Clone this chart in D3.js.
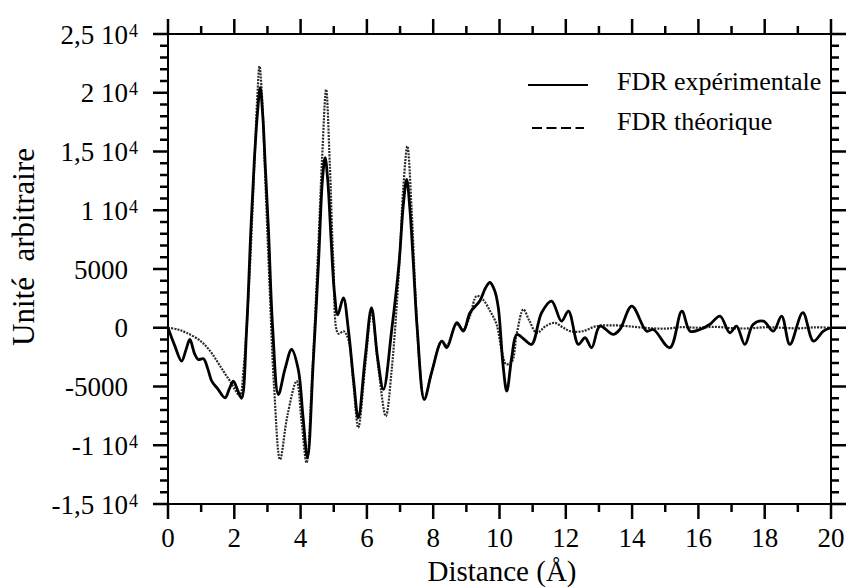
<!DOCTYPE html>
<html>
<head>
<meta charset="utf-8">
<script src="https://cdn.jsdelivr.net/npm/d3@7/dist/d3.min.js"></script>
<style>
  html, body { margin: 0; padding: 0; background: #fff; }
  svg { display: block; }
</style>
</head>
<body>
<svg id="chart" width="847" height="587" font-family="Liberation Serif, Times New Roman, Times, serif"></svg>
<script>
// Radial distribution function (FDR): experimental vs theoretical
const distExp = [0.00, 0.20, 0.41, 0.55, 0.66, 0.80, 0.91, 1.07, 1.20, 1.32, 1.50, 1.72, 1.85, 1.97, 2.10, 2.22,
  2.37, 2.50, 2.60, 2.70, 2.78, 2.86, 2.93, 3.03, 3.16, 3.33, 3.53, 3.73, 3.93, 4.07, 4.21, 4.38, 4.54, 4.66, 4.74,
  4.82, 4.92, 5.02, 5.12, 5.29, 5.44, 5.60, 5.74, 5.95, 6.14, 6.32, 6.50, 6.75, 6.97, 7.10, 7.20, 7.30, 7.40, 7.52,
  7.73, 7.95, 8.26, 8.41, 8.71, 8.91, 9.11, 9.41, 9.58, 9.71, 9.85, 9.96, 10.11, 10.22, 10.37, 10.52, 10.75, 10.97,
  11.27, 11.57, 11.87, 12.08, 12.38, 12.58, 12.78, 13.03, 13.43, 13.63, 13.99, 14.44, 14.64, 15.14, 15.50, 15.75,
  16.05, 16.35, 16.65, 16.95, 17.15, 17.40, 17.65, 17.96, 18.26, 18.51, 18.76, 19.15, 19.47, 19.77, 20.00];
const fdrExp = [0, -1500, -2840, -1800, -1000, -2200, -2700, -2640, -3500, -4540, -5200, -5960, -5200, -4540, -5300, -6000,
  -200, 8360, 14040, 18300, 20430, 18000, 14040, 8360, -145, -5680, -3500, -1850, -3550, -7500, -11060, -2980, 5530, 12630, 14470,
  12500, 7500, 3000, 1100, 2550, -145, -4500, -7660, -2500, 1700, -2500, -5250, -145, 5530, 10500, 12620, 10000, 5530, -145,
  -6100, -3830, -1140, -1700, 425, -290, 1280, 2300, 3400, 3850, 3200, 1800, -3270, -5390, -2500, -570, -1000, -1420,
  1280, 2270, 560, 1420, -1420, -850, -1700, 140, -570, -145, 1840, -290, -150, -1700, 1420, -290,
  -145, 300, 990, -430, 140, -1420, 280, 560, -290, 990, -1420, 1280, -1140, -290, 0];

const distTheo = [0.00, 0.30, 0.56, 0.97, 1.22, 1.47, 1.67, 1.87, 2.05, 2.17, 2.28, 2.45, 2.60, 2.70, 2.76, 2.83, 2.93,
  3.05, 3.20, 3.38, 3.60, 3.88, 4.03, 4.18, 4.35, 4.52, 4.65, 4.77, 4.88, 4.99, 5.14, 5.30, 5.44, 5.60, 5.74, 5.95,
  6.14, 6.35, 6.57, 6.75, 6.97, 7.10, 7.22, 7.35, 7.47, 7.60, 7.73, 7.95, 8.26, 8.41, 8.71, 8.91, 9.11, 9.31, 9.50,
  9.70, 9.91, 10.07, 10.20, 10.37, 10.52, 10.72, 10.90, 11.12, 11.40, 11.67, 11.90, 12.13, 12.50, 12.93, 13.50, 14.00,
  14.50, 15.00, 15.50, 16.00, 16.50, 17.00, 17.50, 18.00, 18.50, 19.00, 19.50, 20.00];
const fdrTheo = [0, -150, -430, -1100, -1800, -2800, -3700, -4540, -5400, -5800, -3500, 4000, 13500, 20000, 22260, 20000, 13000,
  4500, -5000, -11210, -7500, -4540, -8000, -11490, -4000, 6000, 14500, 20280, 14000, 5530, -500, -300, -1000, -5000, -8510, -3200,
  1280, -3500, -7520, -3500, 5000, 12000, 15450, 10000, 2500, -3500, -6100, -3830, -1140, -1500, 300, -100, 1000, 2700, 2400,
  1500, 300, -2000, -3100, -2900, -500, 1560, 600, -430, 150, 425, 50, -290, -300, 140, 200, 100,
  -30, -80, 50, 0, 80, -30, -60, 40, 0, -50, 30, 0];

const xMajor = [0, 2, 4, 6, 8, 10, 12, 14, 16, 18, 20];
const xMinor = [1, 3, 5, 7, 9, 11, 13, 15, 17, 19];
const yMajor = [-15000, -10000, -5000, 0, 5000, 10000, 15000, 20000, 25000];
const yTickMantissa = ["-1,5 10", "-1 10", "-5000", "0", "5000", "1 10", "1,5 10", "2 10", "2,5 10"];
const yTickExponent = ["4", "4", "", "", "", "4", "4", "4", "4"];
const yMinor = [-14000, -13000, -12000, -11000, -9000, -8000, -7000, -6000, -4000, -3000, -2000, -1000,
  1000, 2000, 3000, 4000, 6000, 7000, 8000, 9000, 11000, 12000, 13000, 14000,
  16000, 17000, 18000, 19000, 21000, 22000, 23000, 24000];

const seriesNames = ["FDR expérimentale", "FDR théorique"];
const xTitle = "Distance (Å)";
const yTitle = "Unité  arbitraire";

const svg = d3.select("#chart");
const L = 168, R = 831, T = 34, B = 504;
const x = d3.scaleLinear().domain([0, 20]).range([L, R]);
const y = d3.scaleLinear().domain([-15000, 25000]).range([B, T]);

const MAJOR = 15, MINOR = 8;

svg.append("rect").attr("x", L).attr("y", T).attr("width", R - L).attr("height", B - T)
  .attr("fill", "none").attr("stroke", "#000").attr("stroke-width", 2);

// x tick labels
svg.append("g").selectAll("text").data(xMajor).join("text")
  .attr("x", d => x(d)).attr("y", 547).attr("text-anchor", "middle")
  .attr("font-size", 27).attr("fill", "#000").text(d => d);

// y tick labels with power-of-ten superscripts
const yl = svg.append("g").attr("fill", "#000");
yMajor.forEach((v, i) => {
  yl.append("text").attr("x", 128).attr("y", y(v) + 9.5).attr("text-anchor", "end")
    .attr("font-size", 27).text(yTickMantissa[i]);
  if (yTickExponent[i]) {
    yl.append("text").attr("x", 129).attr("y", y(v) + 2.5).attr("text-anchor", "start")
      .attr("font-size", 18).text(yTickExponent[i]);
  }
});

// axis titles
svg.append("text").attr("x", 502).attr("y", 581).attr("text-anchor", "middle")
  .attr("font-size", 29).attr("fill", "#000").text(xTitle);
svg.append("text").attr("transform", "translate(34,247) rotate(-90)")
  .attr("text-anchor", "middle").attr("font-size", 31).attr("fill", "#000")
  .style("white-space", "pre").text(yTitle);

// curves
const line = d3.line().curve(d3.curveCatmullRom.alpha(0.5));
const ptsTheo = distTheo.map((d, i) => [x(d), y(fdrTheo[i])]);
const ptsExp = distExp.map((d, i) => [x(d), y(fdrExp[i])]);

svg.append("path").attr("d", line(ptsTheo)).attr("fill", "none")
  .attr("stroke", "#2a2a2a").attr("stroke-width", 2.2).attr("stroke-dasharray", "2,1.2");
svg.append("path").attr("d", line(ptsExp)).attr("fill", "none")
  .attr("stroke", "#000").attr("stroke-width", 2.8).attr("stroke-linejoin", "round");

// legend
const lg = svg.append("g");
lg.append("line").attr("x1", 528).attr("x2", 588).attr("y1", 85).attr("y2", 85)
  .attr("stroke", "#000").attr("stroke-width", 2);
lg.append("line").attr("x1", 532).attr("x2", 584).attr("y1", 128).attr("y2", 128)
  .attr("stroke", "#000").attr("stroke-width", 2).attr("stroke-dasharray", "10,4.5");
lg.append("text").attr("x", 617).attr("y", 90).attr("font-size", 26).attr("fill", "#000").text(seriesNames[0]);
lg.append("text").attr("x", 617).attr("y", 130).attr("font-size", 26).attr("fill", "#000").text(seriesNames[1]);

// outward ticks on all four sides of the frame
const addTick = (x1, y1, x2, y2) => svg.append("line")
  .attr("x1", x1).attr("y1", y1).attr("x2", x2).attr("y2", y2)
  .attr("stroke", "#000").attr("stroke-width", 2.5);
xMajor.forEach(v => { addTick(x(v), B, x(v), B + MAJOR); addTick(x(v), T, x(v), T - MAJOR); });
xMinor.forEach(v => { addTick(x(v), B, x(v), B + MINOR); addTick(x(v), T, x(v), T - MINOR); });
yMajor.forEach(v => { addTick(L, y(v), L - MAJOR, y(v)); addTick(R, y(v), R + MAJOR, y(v)); });
yMinor.forEach(v => { addTick(L, y(v), L - MINOR, y(v)); addTick(R, y(v), R + MINOR, y(v)); });
</script>
</body>
</html>
